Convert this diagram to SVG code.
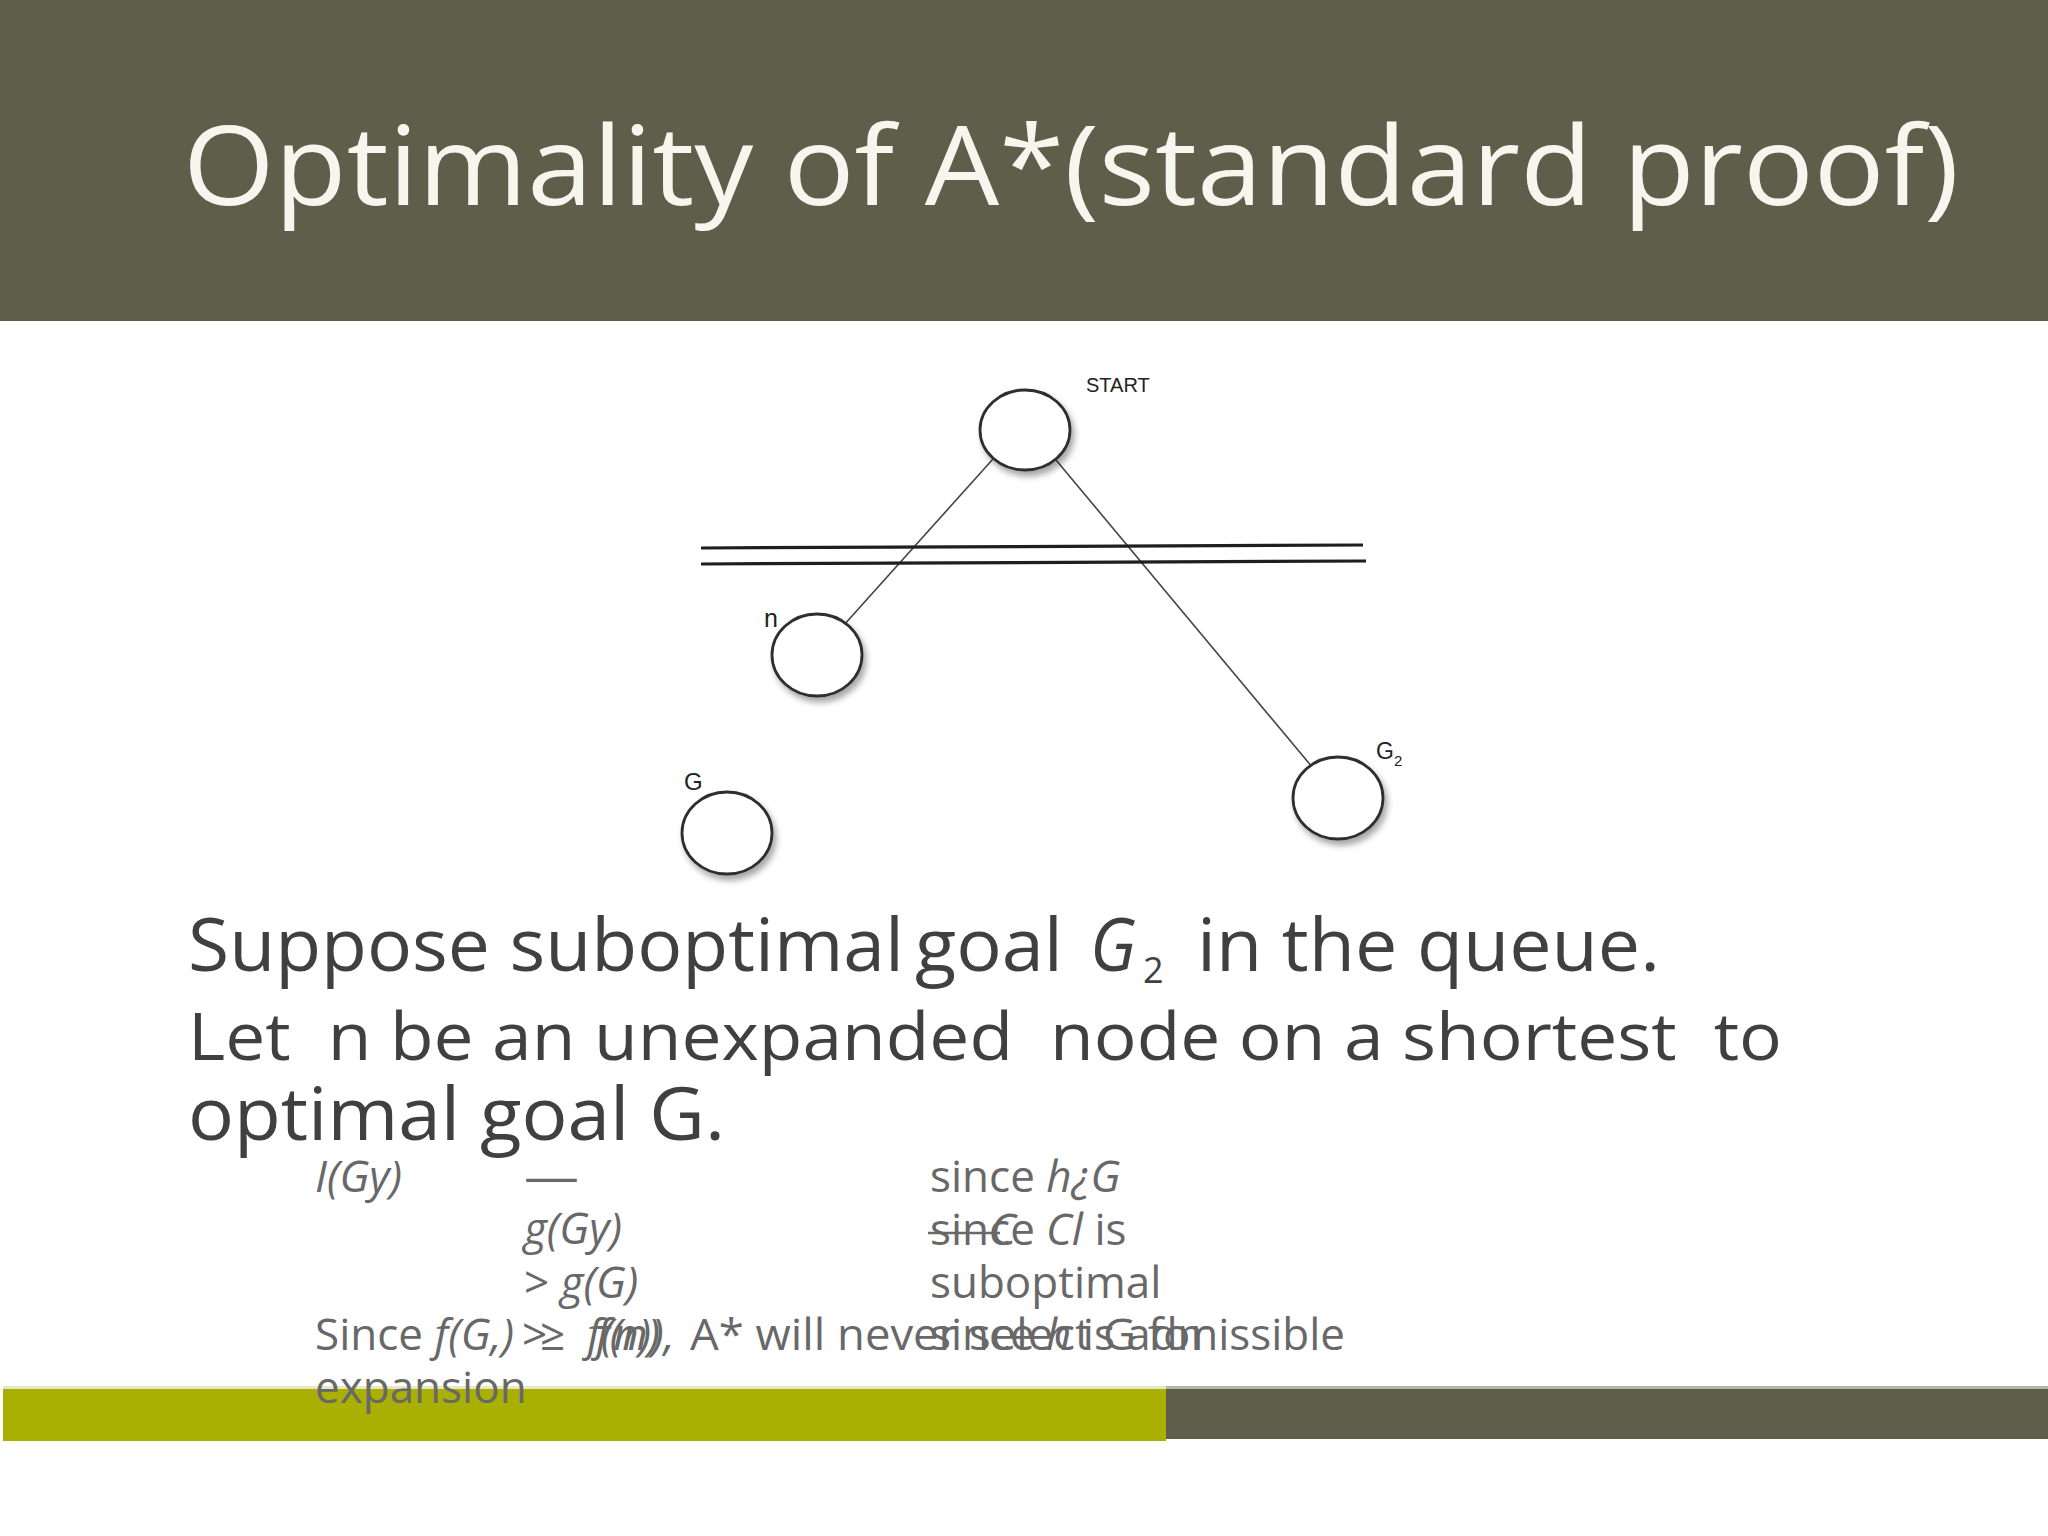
<svg xmlns="http://www.w3.org/2000/svg" width="2048" height="1536" viewBox="0 0 2048 1536">
  <defs>
    <filter id="sh" x="-30%" y="-30%" width="170%" height="170%">
      <feDropShadow dx="3" dy="5" stdDeviation="3" flood-color="#000" flood-opacity="0.35"/>
    </filter>
  </defs>
  <style>
    .node { fill: #fff; stroke: #2e2e2e; stroke-width: 2.8; filter: url(#sh); }
    .edge { stroke: #444; stroke-width: 1.6; fill: none; }
    .bar { stroke: #1e1e1e; stroke-width: 3.2; }
    .lbl { font-family: "Liberation Sans", Arial, sans-serif; fill: #222; }
    .title { font-family: "Open Sans", "DejaVu Sans", sans-serif; fill: #f6f6ef; font-size: 110px; }
    .big { font-family: "Open Sans", "DejaVu Sans", sans-serif; fill: #404040; }
    .sm { font-family: "Open Sans", "DejaVu Sans", sans-serif; fill: #686868; font-size: 44px; }
    .it { font-style: italic; }
  </style>
  <rect x="0" y="0" width="2048" height="1536" fill="#ffffff"/>
  <!-- header -->
  <rect x="0" y="0" width="2048" height="321" fill="#5e5e4a"/>
  <text class="title" x="183" y="205" textLength="1776" lengthAdjust="spacingAndGlyphs">Optimality of A*(standard proof)</text>

  <!-- connectors -->
  <g id="connectors">
    <line class="edge" x1="1019" y1="430" x2="817" y2="655"/>
    <line class="edge" x1="1031" y1="430" x2="1338" y2="798"/>
    <line class="bar" x1="701" y1="548" x2="1363" y2="545"/>
    <line class="bar" x1="701" y1="564" x2="1366" y2="561"/>
  </g>

  <!-- nodes -->
  <g id="node-start">
    <ellipse class="node" cx="1025" cy="430" rx="45" ry="40"/>
    <text class="lbl" x="1086" y="392" font-size="20">START</text>
  </g>
  <g id="node-n">
    <ellipse class="node" cx="817" cy="655" rx="45" ry="41"/>
    <text class="lbl" x="764" y="627" font-size="25">n</text>
  </g>
  <g id="node-g">
    <ellipse class="node" cx="727" cy="833" rx="45" ry="41"/>
    <text class="lbl" x="684" y="790" font-size="24">G</text>
  </g>
  <g id="node-g2">
    <ellipse class="node" cx="1338" cy="798" rx="45" ry="41"/>
    <text class="lbl" x="1376" y="759" font-size="23">G</text>
    <text class="lbl" x="1394" y="766" font-size="15">2</text>
  </g>

  <!-- main text -->
  <g id="text-main">
    <text class="big" x="188" y="971" font-size="74" textLength="716" lengthAdjust="spacingAndGlyphs">Suppose suboptimal</text>
    <text class="big" x="915" y="971" font-size="74" textLength="148" lengthAdjust="spacingAndGlyphs">goal</text>
    <text class="big it" x="1090" y="971" font-size="74" textLength="46" lengthAdjust="spacingAndGlyphs">G</text>
    <text class="big" x="1143" y="983" font-size="36">2</text>
    <text class="big" x="1197" y="971" font-size="74" textLength="463" lengthAdjust="spacingAndGlyphs">in the queue.</text>
    <text class="big" x="188" y="1060" font-size="66" xml:space="preserve" textLength="1594" lengthAdjust="spacingAndGlyphs">Let  n be an unexpanded  node on a shortest  to</text>
    <text class="big" x="188" y="1140" font-size="74" textLength="537" lengthAdjust="spacingAndGlyphs">optimal goal G.</text>
  </g>

  <!-- bottom bars -->
  <rect x="3" y="1386" width="1163" height="3" fill="#e8e6c8"/>
  <rect x="3" y="1389" width="1163" height="52" fill="#a9b002"/>
  <rect x="1166" y="1386" width="882" height="3" fill="#b5b5aa"/>
  <rect x="1166" y="1389" width="882" height="50" fill="#5e5e4a"/>

  <!-- small text -->
  <g id="text-small">
    <text class="sm it" x="315" y="1192">I(Gy)</text>
    <text class="sm" x="524" y="1192" textLength="55" lengthAdjust="spacingAndGlyphs">—</text>
    <text class="sm it" x="524" y="1244">g(Gy)</text>
    <text class="sm" x="524" y="1298">&gt; <tspan class="it">g(G)</tspan></text>
    <text class="sm" x="930" y="1192">since <tspan class="it">h¿G</tspan></text>
    <text class="sm" x="930" y="1245">since</text>
    <line x1="928" y1="1233" x2="1000" y2="1233" stroke="#686868" stroke-width="2.5"/>
    <text class="sm it" x="990" y="1245">C</text>
    <text class="sm" x="1046" y="1245"><tspan class="it">Cl</tspan> is</text>
    <text class="sm" x="930" y="1298">suboptimal</text>
    <text class="sm" x="315" y="1350">Since <tspan class="it">f(G,)</tspan></text>
    <text class="sm" x="522" y="1350">&gt;</text>
    <text class="sm" x="540" y="1350">≥</text>
    <text class="sm it" x="587" y="1350">f(n)),</text>
    <text class="sm it" x="596" y="1350">f(n)</text>
    <text class="sm" x="690" y="1350" textLength="519" lengthAdjust="spacingAndGlyphs">A* will never select G for</text>
    <text class="sm" x="930" y="1350" textLength="415" lengthAdjust="spacingAndGlyphs">since <tspan class="it">h</tspan> is admissible</text>
    <text class="sm" x="315" y="1403">expansion</text>
  </g>
</svg>
